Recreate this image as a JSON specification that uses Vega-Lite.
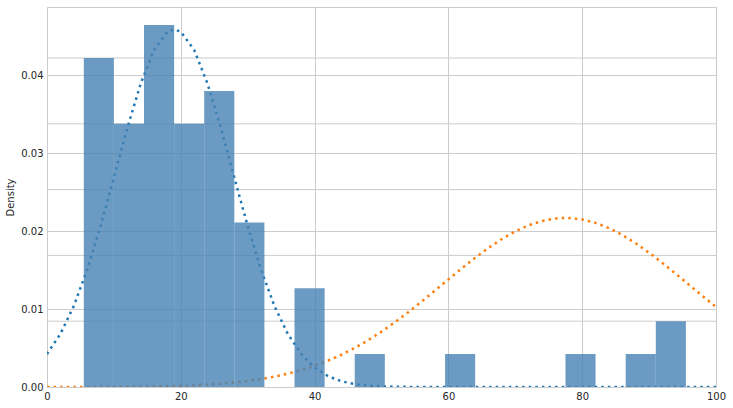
{
  "$schema": "https://vega.github.io/schema/vega-lite/v6.json",
  "width": 669,
  "height": 380,
  "autosize": "none",
  "padding": {"left": 47, "top": 7, "right": 17, "bottom": 21},
  "background": "white",
  "config": {
    "view": {"stroke": "#cccccc", "strokeWidth": 1},
    "font": "DejaVu Sans",
    "axis": {
      "gridColor": "#cccccc",
      "gridWidth": 1,
      "domain": false,
      "ticks": false,
      "labelColor": "#262626",
      "labelFontSize": 10,
      "labelFont": "DejaVu Sans",
      "labelFlush": false,
      "titleFont": "DejaVu Sans",
      "titleFontSize": 10,
      "titleFontWeight": "normal",
      "titleColor": "#262626",
      "labelPadding": 4
    }
  },
  "datasets": {
    "bars": [
      {"x0": 5.5, "x1": 10, "density": 0.04218},
      {"x0": 10, "x1": 14.5, "density": 0.033744},
      {"x0": 14.5, "x1": 19, "density": 0.046398},
      {"x0": 19, "x1": 23.5, "density": 0.033744},
      {"x0": 23.5, "x1": 28, "density": 0.037962},
      {"x0": 28, "x1": 32.5, "density": 0.02109},
      {"x0": 37, "x1": 41.5, "density": 0.012654},
      {"x0": 46, "x1": 50.5, "density": 0.004218},
      {"x0": 59.5, "x1": 64, "density": 0.004218},
      {"x0": 77.5, "x1": 82, "density": 0.004218},
      {"x0": 86.5, "x1": 91, "density": 0.004218},
      {"x0": 91, "x1": 95.5, "density": 0.008436}
    ],
    "grid2": [
      {"v": 0.008436}, {"v": 0.016872}, {"v": 0.025308}, {"v": 0.033744}, {"v": 0.04218}
    ],
    "curves": [
      {"s": "a", "x": 0, "d": 0.004226}, {"s": "a", "x": 2, "d": 0.006797}, {"s": "a", "x": 4, "d": 0.010374},
      {"s": "a", "x": 6, "d": 0.015015}, {"s": "a", "x": 8, "d": 0.020619}, {"s": "a", "x": 10, "d": 0.026855},
      {"s": "a", "x": 12, "d": 0.033176}, {"s": "a", "x": 14, "d": 0.038875}, {"s": "a", "x": 16, "d": 0.043209},
      {"s": "a", "x": 18, "d": 0.045554}, {"s": "a", "x": 19, "d": 0.045856}, {"s": "a", "x": 20, "d": 0.045554},
      {"s": "a", "x": 22, "d": 0.043209}, {"s": "a", "x": 24, "d": 0.038875}, {"s": "a", "x": 26, "d": 0.033176},
      {"s": "a", "x": 28, "d": 0.026855}, {"s": "a", "x": 30, "d": 0.020619}, {"s": "a", "x": 32, "d": 0.015015},
      {"s": "a", "x": 34, "d": 0.010374}, {"s": "a", "x": 36, "d": 0.006797}, {"s": "a", "x": 38, "d": 0.004226},
      {"s": "a", "x": 40, "d": 0.00249}, {"s": "a", "x": 42, "d": 0.001393}, {"s": "a", "x": 44, "d": 0.000738},
      {"s": "a", "x": 46, "d": 0.000371}, {"s": "a", "x": 48, "d": 0.000177}, {"s": "a", "x": 50, "d": 0.00008},
      {"s": "a", "x": 52, "d": 0.000034}, {"s": "a", "x": 54, "d": 0.000014}, {"s": "a", "x": 56, "d": 0.000005},
      {"s": "a", "x": 58, "d": 0.000002}, {"s": "a", "x": 60, "d": 0}, {"s": "a", "x": 65, "d": 0},
      {"s": "a", "x": 70, "d": 0}, {"s": "a", "x": 75, "d": 0}, {"s": "a", "x": 80, "d": 0},
      {"s": "a", "x": 85, "d": 0}, {"s": "a", "x": 90, "d": 0}, {"s": "a", "x": 95, "d": 0}, {"s": "a", "x": 100, "d": 0},
      {"s": "b", "x": 0, "d": 0.000003}, {"s": "b", "x": 2, "d": 0.000005}, {"s": "b", "x": 4, "d": 0.000007},
      {"s": "b", "x": 6, "d": 0.000011}, {"s": "b", "x": 8, "d": 0.000017}, {"s": "b", "x": 10, "d": 0.000026},
      {"s": "b", "x": 12, "d": 0.000038}, {"s": "b", "x": 14, "d": 0.000056}, {"s": "b", "x": 16, "d": 0.000081},
      {"s": "b", "x": 18, "d": 0.000116}, {"s": "b", "x": 20, "d": 0.000164}, {"s": "b", "x": 22, "d": 0.000229},
      {"s": "b", "x": 24, "d": 0.000317}, {"s": "b", "x": 26, "d": 0.000432}, {"s": "b", "x": 28, "d": 0.000582},
      {"s": "b", "x": 30, "d": 0.000775}, {"s": "b", "x": 32, "d": 0.001019}, {"s": "b", "x": 34, "d": 0.001326},
      {"s": "b", "x": 36, "d": 0.001704}, {"s": "b", "x": 38, "d": 0.002165}, {"s": "b", "x": 40, "d": 0.002717},
      {"s": "b", "x": 42, "d": 0.003371}, {"s": "b", "x": 44, "d": 0.004133}, {"s": "b", "x": 46, "d": 0.005008},
      {"s": "b", "x": 48, "d": 0.005997}, {"s": "b", "x": 50, "d": 0.007098}, {"s": "b", "x": 52, "d": 0.008299},
      {"s": "b", "x": 54, "d": 0.009592}, {"s": "b", "x": 56, "d": 0.010955}, {"s": "b", "x": 58, "d": 0.012366},
      {"s": "b", "x": 60, "d": 0.013794}, {"s": "b", "x": 62, "d": 0.015206}, {"s": "b", "x": 64, "d": 0.016566},
      {"s": "b", "x": 66, "d": 0.017835}, {"s": "b", "x": 68, "d": 0.018977}, {"s": "b", "x": 70, "d": 0.019954},
      {"s": "b", "x": 72, "d": 0.020735}, {"s": "b", "x": 74, "d": 0.021293}, {"s": "b", "x": 76, "d": 0.02161},
      {"s": "b", "x": 77.5, "d": 0.021682}, {"s": "b", "x": 78, "d": 0.021674}, {"s": "b", "x": 80, "d": 0.021483},
      {"s": "b", "x": 82, "d": 0.021043}, {"s": "b", "x": 84, "d": 0.02037}, {"s": "b", "x": 86, "d": 0.019488},
      {"s": "b", "x": 88, "d": 0.018424}, {"s": "b", "x": 90, "d": 0.017214}, {"s": "b", "x": 92, "d": 0.015895},
      {"s": "b", "x": 94, "d": 0.014504}, {"s": "b", "x": 96, "d": 0.01308}, {"s": "b", "x": 98, "d": 0.011656},
      {"s": "b", "x": 100, "d": 0.010266}
    ]
  },
  "layer": [
    {
      "data": {"name": "grid2"},
      "mark": {"type": "rule", "color": "#cccccc", "strokeWidth": 1},
      "encoding": {
        "y": {"field": "v", "type": "quantitative", "scale": {"domain": [0, 0.04872], "nice": false, "zero": true},
          "axis": {"title": "Density", "format": ".2f", "values": [0, 0.01, 0.02, 0.03, 0.04], "titlePadding": 5}}
      }
    },
    {
      "data": {"name": "curves"},
      "mark": {"type": "line", "strokeWidth": 2.5, "strokeDash": [2.5, 4.1], "strokeCap": "butt", "clip": true},
      "encoding": {
        "x": {"field": "x", "type": "quantitative", "scale": {"domain": [0, 100], "nice": false},
          "axis": {"title": null, "values": [0, 20, 40, 60, 80, 100]}},
        "y": {"field": "d", "type": "quantitative"},
        "color": {"field": "s", "type": "nominal", "scale": {"domain": ["a", "b"], "range": ["#1f77b4", "#ff7f0e"]}, "legend": null}
      }
    },
    {
      "data": {"name": "bars"},
      "mark": {"type": "rect", "color": "#4682b4", "opacity": 0.8},
      "encoding": {
        "x": {"field": "x0", "type": "quantitative"},
        "x2": {"field": "x1"},
        "y": {"field": "density", "type": "quantitative"},
        "y2": {"datum": 0}
      }
    }
  ]
}
